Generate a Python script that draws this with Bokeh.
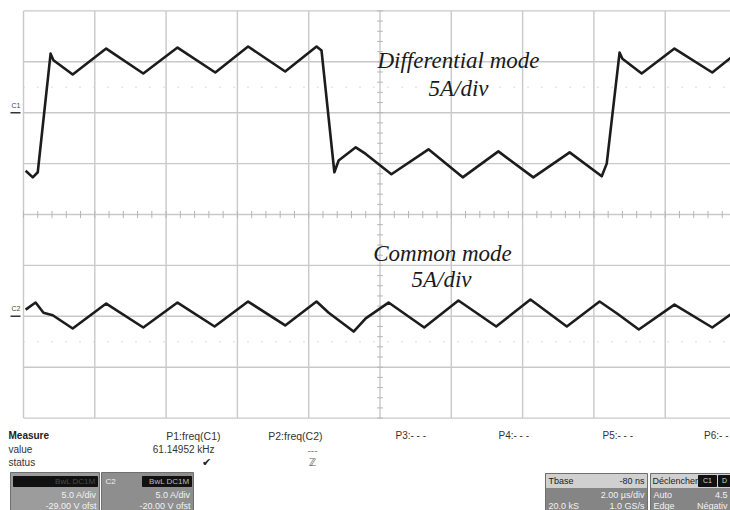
from bokeh.plotting import figure
from bokeh.models import Range1d, Label
from bokeh.embed import file_html
from bokeh.resources import INLINE

# ---------------- data (time in µs, current in A) ----------------
dm_time_us = [0.06, 0.26, 0.40, 0.76, 0.84, 1.38, 2.32, 3.36, 4.32, 5.38, 6.30, 7.34,
              8.22, 8.36, 8.72, 8.84, 9.32, 9.60, 10.32, 11.36, 12.32, 13.32, 14.30,
              15.32, 16.22, 16.36, 16.72, 16.80, 17.34, 18.26, 19.32, 19.84]
dm_current_a = [-5.7, -6.35, -5.85, 5.8, 5.15, 3.75, 6.3, 3.85, 6.4, 3.95, 6.5, 4.05,
                6.5, 6.1, -5.85, -4.7, -3.4, -4.05, -6.05, -3.6, -6.35, -3.8, -6.35,
                -3.9, -6.25, -5.0, 5.9, 5.3, 3.85, 6.3, 3.95, 5.4]

cm_time_us = [0.06, 0.34, 0.56, 0.82, 1.38, 2.32, 3.36, 4.32, 5.36, 6.30, 7.34, 8.22,
              8.56, 9.26, 9.60, 10.24, 11.24, 12.20, 13.26, 14.22, 15.24, 16.16, 16.66,
              17.26, 18.26, 19.32, 19.84]
cm_current_a = [0.65, 1.35, 0.35, 0.1, -1.2, 1.25, -1.1, 1.35, -1.0, 1.45, -0.9, 1.45,
                0.35, -1.5, -0.2, 1.35, -1.1, 1.55, -1.0, 1.65, -1.0, 1.45, 0.25,
                -1.3, 1.15, -1.1, 0.2]

# scope settings
time_per_div = 2.0      # µs/div
amps_per_div = 5.0      # A/div
c1_ground_div = 2.0
c2_ground_div = -2.0
n_xdiv = 10
n_ydiv = 8

# ---------------- pixel geometry ----------------
W, H = 730, 510
X0, DX = 23.0, 71.3     # left border, px per div
Y0, DY = 214.0, 50.9    # center line, px per div


def fx(px):
    return (px - X0) / DX * time_per_div


def fy(py):
    return (Y0 - py) / DY


p = figure(width=W, height=H, output_backend="svg", toolbar_location=None,
           x_range=Range1d(fx(0), fx(W)), y_range=Range1d(fy(H), fy(0)),
           min_border=0, outline_line_color=None, background_fill_color="white",
           border_fill_color="white")
p.axis.visible = False
p.grid.visible = False

p.extra_y_ranges = {
    "c1": Range1d((fy(H) - c1_ground_div) * amps_per_div, (fy(0) - c1_ground_div) * amps_per_div),
    "c2": Range1d((fy(H) - c2_ground_div) * amps_per_div, (fy(0) - c2_ground_div) * amps_per_div),
}

gcol = "#c9c9c9"
# vertical grid lines
xs = [i * time_per_div for i in range(n_xdiv + 1)]
p.segment(x0=xs, y0=[-n_ydiv / 2] * len(xs), x1=xs, y1=[n_ydiv / 2] * len(xs),
          line_color=gcol, line_width=1.4)
# horizontal grid lines
ys = [j - n_ydiv / 2 for j in range(n_ydiv + 1)]
p.segment(x0=[0] * len(ys), y0=ys, x1=[n_xdiv * time_per_div] * len(ys), y1=ys,
          line_color=gcol, line_width=1.4)

# center axis ticks
tx = [k * time_per_div / 5 for k in range(n_xdiv * 5 + 1)]
p.segment(x0=tx, y0=[-0.07] * len(tx), x1=tx, y1=[0.07] * len(tx), line_color="#b5b5b5", line_width=1)
ty = [k / 5 - n_ydiv / 2 for k in range(n_ydiv * 5 + 1)]
xc = n_xdiv / 2 * time_per_div
p.segment(x0=[xc - 0.08] * len(ty), y0=ty, x1=[xc + 0.08] * len(ty), y1=ty, line_color="#b5b5b5", line_width=1)

# faint dotted cursor lines
for yy in (2.5, -2.5):
    p.line([0, n_xdiv * time_per_div], [yy, yy], line_color="#cfcfcf", line_width=1.5, line_dash="1 13")

# waveforms
p.line(dm_time_us, dm_current_a, y_range_name="c1", line_color="#1c1c1c", line_width=2.6, line_join="round")
p.line(cm_time_us, cm_current_a, y_range_name="c2", line_color="#1c1c1c", line_width=2.6, line_join="round")

# channel markers
p.segment(x0=[fx(10), fx(10)], y0=[c1_ground_div, c2_ground_div], x1=[fx(20), fx(20)],
          y1=[c1_ground_div, c2_ground_div], line_color="#333333", line_width=1.5)


def lab(px, py, text, size=9, color="#222222", align="left", bold=False, italic=False,
        font="Liberation Sans"):
    style = "normal"
    if bold and italic:
        style = "bold italic"
    elif bold:
        style = "bold"
    elif italic:
        style = "italic"
    p.add_layout(Label(x=fx(px), y=fy(py), text=text, text_font=font,
                       text_font_size=f"{size}px", text_color=color, text_align=align,
                       text_baseline="middle", text_font_style=style))


lab(11, 105, "C1", size=7, color="#444444")
lab(11, 308, "C2", size=7, color="#444444")

# annotations
lab(458, 60, "Differential mode", size=23, italic=True, font="Liberation Serif", align="center", color="#1a1a1a")
lab(458, 88, "5A/div", size=23, italic=True, font="Liberation Serif", align="center", color="#1a1a1a")
lab(442, 253, "Common mode", size=23, italic=True, font="Liberation Serif", align="center", color="#1a1a1a")
lab(441, 279, "5A/div", size=23, italic=True, font="Liberation Serif", align="center", color="#1a1a1a")

# measurement table
tcol = "#333333"
lab(8, 435, "Measure", size=10, bold=True, color="#222222")
lab(8, 449, "value", size=10, color=tcol)
lab(8, 462, "status", size=10, color=tcol)
lab(220, 435, "P1:freq(C1)", size=10.5, align="right", color=tcol)
lab(322, 435, "P2:freq(C2)", size=10.5, align="right", color=tcol)
lab(395, 435, "P3:- - -", size=10, color=tcol)
lab(498, 435, "P4:- - -", size=10, color=tcol)
lab(602, 435, "P5:- - -", size=10, color=tcol)
lab(728, 435, "P6:- -", size=10, align="right", color=tcol)
lab(214, 449, "61.14952 kHz", size=10, align="right", color=tcol)
lab(312, 449, "---", size=10, align="center", color="#888888")
lab(206, 462, "✔", size=11, align="center", color="#222222", font="DejaVu Sans")
lab(312, 462, "ℤ", size=10, align="center", color="#555555", font="DejaVu Sans")


def box(px0, py0, px1, py1, fill, line="#6f6f6f"):
    p.quad(left=fx(px0), right=fx(px1), top=fy(py0), bottom=fy(py1),
           fill_color=fill, line_color=line, line_width=1)


# C1 box
box(10, 472, 99, 512, "#9c9c9c")
box(13, 476, 97, 486, "#111111", line="#111111")
lab(95, 481, "BwL DC1M", size=8, align="right", color="#4a4a4a")
lab(96, 494, "5.0 A/div", size=9, align="right", color="#f2f2f2")
lab(96, 505, "-29.00 V ofst", size=9, align="right", color="#f2f2f2")
# C2 box
box(101, 472, 193, 512, "#8e8e8e")
lab(105, 481, "C2", size=8, color="#f0f0f0")
box(142, 476, 191, 486, "#111111", line="#111111")
lab(189, 481, "BwL DC1M", size=8, align="right", color="#bdbdbd")
lab(190, 494, "5.0 A/div", size=9, align="right", color="#f2f2f2")
lab(190, 505, "-20.00 V ofst", size=9, align="right", color="#f2f2f2")

# Tbase box
box(545, 473, 647, 512, "#858585")
box(546, 474, 646, 487, "#d0d0d0", line="#d0d0d0")
lab(548, 480, "Tbase", size=9, color="#222222")
lab(644, 480, "-80 ns", size=9, align="right", color="#222222")
lab(644, 494, "2.00 µs/div", size=9, align="right", color="#f2f2f2")
lab(548, 505, "20.0 kS", size=9, color="#f2f2f2")
lab(644, 505, "1.0 GS/s", size=9, align="right", color="#f2f2f2")

# Trigger box
box(650, 473, 735, 512, "#858585")
box(651, 474, 734, 487, "#d0d0d0", line="#d0d0d0")
lab(652, 480, "Déclenchem", size=9, color="#222222")
box(698, 475, 716, 486, "#111111", line="#111111")
lab(707, 480, "C1", size=7, align="center", color="#d8d8d8")
box(718, 475, 734, 486, "#111111", line="#111111")
lab(724, 480, "D", size=7, align="center", color="#d8d8d8")
lab(653, 494, "Auto", size=9, color="#f2f2f2")
lab(727, 494, "4.5", size=9, align="right", color="#f2f2f2")
lab(653, 505, "Edge", size=9, color="#f2f2f2")
lab(727, 505, "Négativ", size=9, align="right", color="#f2f2f2")

open("out.html", "w").write(file_html(p, INLINE))
